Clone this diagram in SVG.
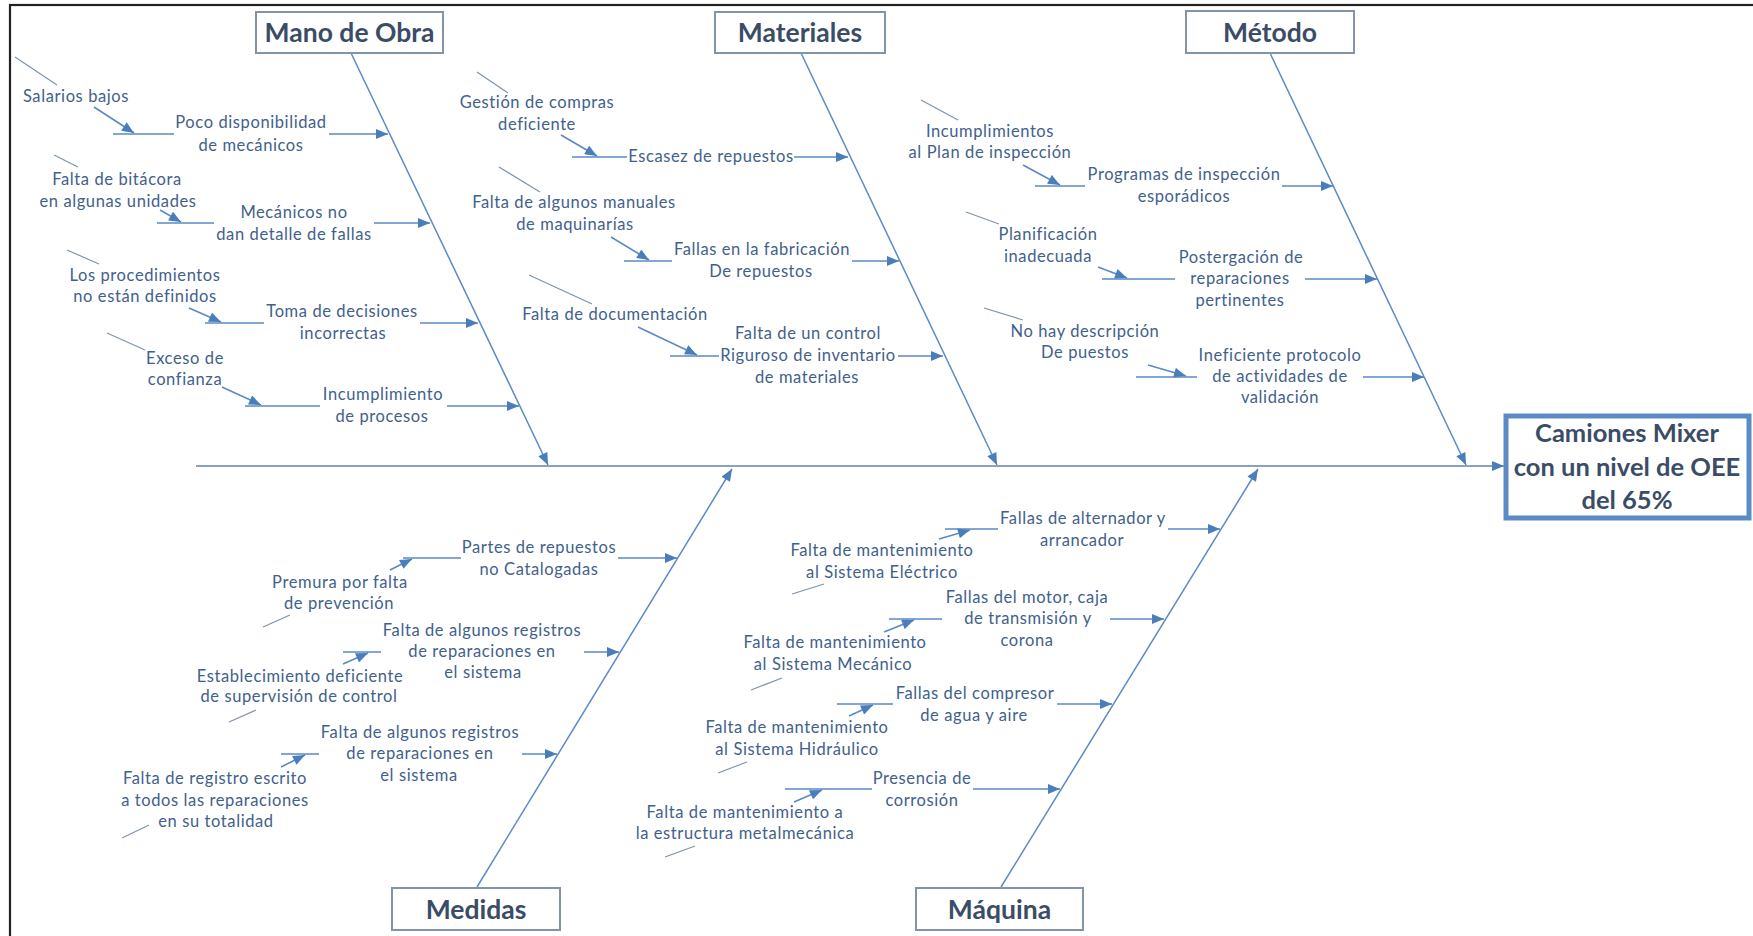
<svg xmlns="http://www.w3.org/2000/svg" width="1753" height="936" viewBox="0 0 1753 936">
<style>
.t{font-family:Lato,"Liberation Sans",sans-serif;font-size:16.5px;letter-spacing:0.6px;fill:#41618c;text-anchor:middle}
.cat{font-family:Lato,"Liberation Sans",sans-serif;font-size:26.5px;font-weight:bold;fill:#3b4c66;text-anchor:middle}
.eff{font-family:Lato,"Liberation Sans",sans-serif;font-size:25.5px;font-weight:bold;fill:#3b4c66;text-anchor:middle}
.box{fill:#ffffff;stroke:#8494a8;stroke-width:2}
.ln{stroke:#5a8ac6;stroke-width:1.6;fill:none}
.bone{stroke:#5a8ac6;stroke-width:1.5;fill:none}
.spine{stroke:#8aa2bd;stroke-width:2.2;fill:none}
.tail{stroke:#7d93ad;stroke-width:1.2;fill:none}
.a{marker-end:url(#ah)}
</style>
<defs>
<marker id="ah" viewBox="0 0 12 10" refX="12" refY="5" markerWidth="13" markerHeight="10" markerUnits="userSpaceOnUse" orient="auto"><path d="M0,0 L12,5 L0,10 z" fill="#4a7ebb"/></marker>
</defs>
<rect x="0" y="0" width="1753" height="936" fill="#ffffff"/>
<rect x="10" y="5" width="1760" height="960" fill="none" stroke="#222222" stroke-width="2.2"/>

<g id="connectors">
<line class="spine a" x1="196" y1="466" x2="1504" y2="466"/>
<line class="bone a" x1="351" y1="53" x2="548" y2="465"/>
<line class="bone a" x1="801" y1="53" x2="997" y2="465"/>
<line class="bone a" x1="1270" y1="53" x2="1466" y2="465"/>
<line class="bone a" x1="477" y1="887" x2="732" y2="469"/>
<line class="bone a" x1="1001" y1="887" x2="1258" y2="469"/>
<!-- Mano de Obra -->
<line class="tail" x1="15" y1="57" x2="57" y2="85"/>
<line class="ln a" x1="94" y1="107" x2="134" y2="133"/>
<line class="ln" x1="113" y1="134" x2="174" y2="134"/>
<line class="ln a" x1="329" y1="134" x2="388" y2="134"/>
<line class="tail" x1="54" y1="155" x2="78" y2="167"/>
<line class="ln a" x1="160" y1="210" x2="181" y2="222"/>
<line class="ln" x1="157" y1="223" x2="214" y2="223"/>
<line class="ln a" x1="374" y1="223" x2="430" y2="223"/>
<line class="tail" x1="67" y1="250" x2="99" y2="264"/>
<line class="ln a" x1="189" y1="308" x2="221" y2="322"/>
<line class="ln" x1="205" y1="323" x2="264" y2="323"/>
<line class="ln a" x1="420" y1="323" x2="478" y2="323"/>
<line class="tail" x1="107" y1="333" x2="145" y2="350"/>
<line class="ln a" x1="222" y1="387" x2="261" y2="405"/>
<line class="ln" x1="245" y1="406" x2="320" y2="406"/>
<line class="ln a" x1="447" y1="406" x2="519" y2="406"/>
<!-- Materiales -->
<line class="tail" x1="477" y1="72" x2="508" y2="93"/>
<line class="ln a" x1="561" y1="135" x2="597" y2="156"/>
<line class="ln" x1="572" y1="157" x2="627" y2="157"/>
<line class="ln a" x1="794" y1="157" x2="848" y2="157"/>
<line class="tail" x1="499" y1="167" x2="540" y2="192"/>
<line class="ln a" x1="611" y1="237" x2="649" y2="260"/>
<line class="ln" x1="624" y1="261" x2="672" y2="261"/>
<line class="ln a" x1="852" y1="261" x2="899" y2="261"/>
<line class="tail" x1="529" y1="275" x2="592" y2="304"/>
<line class="ln a" x1="638" y1="327" x2="697" y2="355"/>
<line class="ln" x1="670" y1="356" x2="719" y2="356"/>
<line class="ln a" x1="898" y1="356" x2="943" y2="356"/>
<!-- Metodo -->
<line class="tail" x1="921" y1="100" x2="958" y2="120"/>
<line class="ln a" x1="1023" y1="165" x2="1060" y2="185"/>
<line class="ln" x1="1035" y1="186" x2="1085" y2="186"/>
<line class="ln a" x1="1282" y1="186" x2="1333" y2="186"/>
<line class="tail" x1="966" y1="212" x2="999" y2="224"/>
<line class="ln a" x1="1098" y1="267" x2="1127" y2="278"/>
<line class="ln" x1="1102" y1="279" x2="1175" y2="279"/>
<line class="ln a" x1="1305" y1="279" x2="1377" y2="279"/>
<line class="tail" x1="984" y1="308" x2="1023" y2="320"/>
<line class="ln a" x1="1148" y1="365" x2="1186" y2="376"/>
<line class="ln" x1="1136" y1="377" x2="1197" y2="377"/>
<line class="ln a" x1="1363" y1="377" x2="1424" y2="377"/>
<!-- Medidas -->
<line class="ln" x1="403" y1="558" x2="461" y2="558"/>
<line class="ln a" x1="390" y1="570" x2="412" y2="559"/>
<line class="ln a" x1="618" y1="558" x2="677" y2="558"/>
<line class="tail" x1="263" y1="627" x2="290" y2="615"/>
<line class="ln" x1="343" y1="652" x2="381" y2="652"/>
<line class="ln a" x1="343" y1="664" x2="368" y2="653"/>
<line class="ln a" x1="584" y1="652" x2="619" y2="652"/>
<line class="tail" x1="229" y1="722" x2="256" y2="710"/>
<line class="ln" x1="281" y1="754" x2="319" y2="754"/>
<line class="ln a" x1="281" y1="767" x2="305" y2="755"/>
<line class="ln a" x1="522" y1="754" x2="557" y2="754"/>
<line class="tail" x1="122" y1="838" x2="149" y2="825"/>
<!-- Maquina -->
<line class="ln" x1="945" y1="529" x2="998" y2="529"/>
<line class="ln a" x1="939" y1="539" x2="970" y2="530"/>
<line class="ln a" x1="1168" y1="529" x2="1220" y2="529"/>
<line class="tail" x1="792" y1="594" x2="824" y2="584"/>
<line class="ln" x1="889" y1="619" x2="942" y2="619"/>
<line class="ln a" x1="884" y1="632" x2="914" y2="620"/>
<line class="ln a" x1="1110" y1="619" x2="1164" y2="619"/>
<line class="tail" x1="751" y1="690" x2="782" y2="678"/>
<line class="ln" x1="837" y1="704" x2="893" y2="704"/>
<line class="ln a" x1="849" y1="716" x2="873" y2="705"/>
<line class="ln a" x1="1057" y1="704" x2="1112" y2="704"/>
<line class="tail" x1="718" y1="773" x2="747" y2="762"/>
<line class="ln" x1="785" y1="789" x2="872" y2="789"/>
<line class="ln a" x1="794" y1="802" x2="822" y2="790"/>
<line class="ln a" x1="973" y1="789" x2="1060" y2="789"/>
<line class="tail" x1="665" y1="857" x2="695" y2="846"/>
</g>

<g id="cat-mano-de-obra"><rect class="box" x="256" y="12" width="187" height="41"/><text class="cat" x="349.5" y="42">Mano de Obra</text></g>
<g id="cat-materiales"><rect class="box" x="715" y="12" width="170" height="41"/><text class="cat" x="800" y="42">Materiales</text></g>
<g id="cat-metodo"><rect class="box" x="1186" y="11" width="168" height="42"/><text class="cat" x="1270" y="42">Método</text></g>
<g id="cat-medidas"><rect class="box" x="392" y="888" width="168" height="42"/><text class="cat" x="476" y="919">Medidas</text></g>
<g id="cat-maquina"><rect class="box" x="916" y="888" width="167" height="42"/><text class="cat" x="999.5" y="919">Máquina</text></g>
<g id="effect"><rect x="1506" y="416" width="243" height="102" fill="#ffffff" stroke="#5b8bc5" stroke-width="5"/>
<text class="eff" x="1627" y="442">Camiones Mixer</text><text class="eff" x="1627" y="476">con un nivel de OEE</text><text class="eff" x="1627" y="509">del 65%</text></g>

<g id="c-salarios"><text class="t" x="76" y="102">Salarios bajos</text></g>
<g id="c-poco-disp"><text class="t" x="251" y="128">Poco disponibilidad</text><text class="t" x="251" y="151">de mecánicos</text></g>
<g id="c-bitacora"><text class="t" x="117" y="185">Falta de bitácora</text><text class="t" x="118" y="207">en algunas unidades</text></g>
<g id="c-mecanicos"><text class="t" x="294" y="218">Mecánicos no</text><text class="t" x="294" y="240">dan detalle de fallas</text></g>
<g id="c-procedimientos"><text class="t" x="145" y="281">Los procedimientos</text><text class="t" x="145" y="302">no están definidos</text></g>
<g id="c-toma"><text class="t" x="342" y="317">Toma de decisiones</text><text class="t" x="343" y="339">incorrectas</text></g>
<g id="c-exceso"><text class="t" x="185" y="364">Exceso de</text><text class="t" x="185" y="385">confianza</text></g>
<g id="c-incumplimiento"><text class="t" x="383" y="400">Incumplimiento</text><text class="t" x="382" y="422">de procesos</text></g>

<g id="c-gestion"><text class="t" x="537" y="108">Gestión de compras</text><text class="t" x="537" y="130">deficiente</text></g>
<g id="c-escasez"><text class="t" x="711" y="162">Escasez de repuestos</text></g>
<g id="c-manuales"><text class="t" x="574" y="208">Falta de algunos manuales</text><text class="t" x="575" y="230">de maquinarías</text></g>
<g id="c-fallas-fab"><text class="t" x="762" y="255">Fallas en la fabricación</text><text class="t" x="761" y="277">De repuestos</text></g>
<g id="c-documentacion"><text class="t" x="615" y="320">Falta de documentación</text></g>
<g id="c-control"><text class="t" x="808" y="339">Falta de un control</text><text class="t" x="808" y="361">Riguroso de inventario</text><text class="t" x="807" y="383">de materiales</text></g>

<g id="c-incumplimientos-plan"><text class="t" x="990" y="137">Incumplimientos</text><text class="t" x="990" y="158">al Plan de inspección</text></g>
<g id="c-programas"><text class="t" x="1184" y="180">Programas de inspección</text><text class="t" x="1184" y="202">esporádicos</text></g>
<g id="c-planificacion"><text class="t" x="1048" y="240">Planificación</text><text class="t" x="1048" y="262">inadecuada</text></g>
<g id="c-postergacion"><text class="t" x="1241" y="263">Postergación de</text><text class="t" x="1240" y="284">reparaciones</text><text class="t" x="1240" y="306">pertinentes</text></g>
<g id="c-descripcion"><text class="t" x="1085" y="337">No hay descripción</text><text class="t" x="1085" y="358">De puestos</text></g>
<g id="c-protocolo"><text class="t" x="1280" y="361">Ineficiente protocolo</text><text class="t" x="1280" y="382">de actividades de</text><text class="t" x="1280" y="403">validación</text></g>

<g id="c-partes"><text class="t" x="539" y="553">Partes de repuestos</text><text class="t" x="539" y="575">no Catalogadas</text></g>
<g id="c-premura"><text class="t" x="340" y="588">Premura por falta</text><text class="t" x="339" y="609">de prevención</text></g>
<g id="c-registros1"><text class="t" x="482" y="636">Falta de algunos registros</text><text class="t" x="482" y="657">de reparaciones en</text><text class="t" x="483" y="678">el sistema</text></g>
<g id="c-establecimiento"><text class="t" x="300" y="682">Establecimiento deficiente</text><text class="t" x="299" y="702">de supervisión de control</text></g>
<g id="c-registros2"><text class="t" x="420" y="738">Falta de algunos registros</text><text class="t" x="420" y="759">de reparaciones en</text><text class="t" x="419" y="781">el sistema</text></g>
<g id="c-registro-escrito"><text class="t" x="215" y="784">Falta de registro escrito</text><text class="t" x="215" y="806">a todos las reparaciones</text><text class="t" x="216" y="827">en su totalidad</text></g>

<g id="c-alternador"><text class="t" x="1083" y="524">Fallas de alternador y</text><text class="t" x="1082" y="546">arrancador</text></g>
<g id="c-electrico"><text class="t" x="882" y="556">Falta de mantenimiento</text><text class="t" x="882" y="578">al Sistema Eléctrico</text></g>
<g id="c-motor"><text class="t" x="1027" y="603">Fallas del motor, caja</text><text class="t" x="1028" y="624">de transmisión y</text><text class="t" x="1027" y="646">corona</text></g>
<g id="c-mecanico"><text class="t" x="835" y="648">Falta de mantenimiento</text><text class="t" x="833" y="670">al Sistema Mecánico</text></g>
<g id="c-compresor"><text class="t" x="975" y="699">Fallas del compresor</text><text class="t" x="974" y="721">de agua y aire</text></g>
<g id="c-hidraulico"><text class="t" x="797" y="733">Falta de mantenimiento</text><text class="t" x="797" y="755">al Sistema Hidráulico</text></g>
<g id="c-corrosion"><text class="t" x="922" y="784">Presencia de</text><text class="t" x="922" y="806">corrosión</text></g>
<g id="c-estructura"><text class="t" x="745" y="818">Falta de mantenimiento a</text><text class="t" x="745" y="839">la estructura metalmecánica</text></g>
</svg>
